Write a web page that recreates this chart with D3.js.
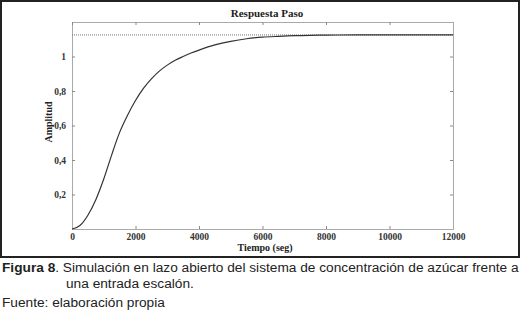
<!DOCTYPE html>
<html>
<head>
<meta charset="utf-8">
<script src="https://cdn.jsdelivr.net/npm/d3@7"></script>
<style>
  body { margin: 0; background: #fff; }
  svg { display: block; }
</style>
</head>
<body>
<script>
// Constantes de la visualización
const WIDTH = 521;
const HEIGHT = 318;
const MARGIN = { top: 22, left: 72, right: 68, bottom: 89 };
const WIDTHVIS = WIDTH - MARGIN.left - MARGIN.right;
const HEIGHTVIS = HEIGHT - MARGIN.top - MARGIN.bottom;

// Datos: tiempo (seg) y amplitud
const tiempos = [0, 250, 500, 750, 1000, 1250, 1500, 1750, 2000, 2250, 2500, 2750,
  3000, 3250, 3500, 3750, 4000, 4500, 5000, 5500, 6000, 6500, 7000, 7500, 8000,
  9000, 10000, 11000, 12000];
const amplitudes = [0, 0.02, 0.08, 0.17, 0.29, 0.43, 0.56, 0.66, 0.745, 0.815, 0.87, 0.915,
  0.95, 0.978, 1.0, 1.02, 1.037, 1.067, 1.088, 1.103, 1.112, 1.117, 1.121, 1.123, 1.124,
  1.125, 1.125, 1.125, 1.125];
const valorFinal = 1.125;
const ticksX = [0, 2000, 4000, 6000, 8000, 10000, 12000];
const ticksY = [0.2, 0.4, 0.6, 0.8, 1];

const datos = tiempos.map((t, i) => ({ t: t, a: amplitudes[i] }));

const svg = d3.select("body")
  .append("svg")
  .attr("width", WIDTH)
  .attr("height", HEIGHT);

// Marco exterior de la figura
svg.append("rect")
  .attr("x", 1)
  .attr("y", 1)
  .attr("width", 518)
  .attr("height", 256)
  .attr("fill", "#fff")
  .attr("stroke", "#222")
  .attr("stroke-width", 2);

const escalaX = d3.scaleLinear().domain([0, 12000]).range([0, WIDTHVIS]);
const escalaY = d3.scaleLinear().domain([0, 1.2]).range([HEIGHTVIS, 0]);

const contenedor = svg.append("g")
  .attr("transform", `translate(${MARGIN.left}, ${MARGIN.top})`);

const fuenteSerif = "'Liberation Serif', 'Times New Roman', serif";

// Ejes con ticks hacia adentro (estilo matlab)
const ejeX = d3.axisBottom(escalaX).tickValues(ticksX).tickSize(-3).tickPadding(4)
  .tickFormat(d3.format("d"));
const ejeY = d3.axisLeft(escalaY).tickValues(ticksY).tickSize(-3).tickPadding(6)
  .tickFormat(d => String(d).replace(".", ","));

const gX = contenedor.append("g")
  .attr("transform", `translate(0, ${HEIGHTVIS})`)
  .call(ejeX);
const gY = contenedor.append("g").call(ejeY);

// Espejo arriba y a la derecha
const gXTop = contenedor.append("g")
  .call(d3.axisTop(escalaX).tickValues(ticksX).tickSize(-3).tickFormat(""));
const gYRight = contenedor.append("g")
  .attr("transform", `translate(${WIDTHVIS}, 0)`)
  .call(d3.axisRight(escalaY).tickValues(ticksY).tickSize(-3).tickFormat(""));

[gX, gY, gXTop, gYRight].forEach(g => {
  g.select(".domain").attr("stroke", "#aaa");
  g.selectAll(".tick line").attr("stroke", "#888");
  g.selectAll("text")
    .attr("font-family", fuenteSerif)
    .attr("font-weight", "bold")
    .attr("font-size", 9.5)
    .attr("fill", "#333");
});

// Línea punteada del valor final
contenedor.append("line")
  .attr("x1", 0)
  .attr("x2", WIDTHVIS)
  .attr("y1", escalaY(valorFinal))
  .attr("y2", escalaY(valorFinal))
  .attr("stroke", "#777")
  .attr("stroke-width", 1)
  .attr("stroke-dasharray", "1,1");

// Curva de respuesta
const linea = d3.line()
  .x(d => escalaX(d.t))
  .y(d => escalaY(d.a))
  .curve(d3.curveMonotoneX);

contenedor.append("path")
  .datum(datos)
  .attr("fill", "none")
  .attr("stroke", "#333")
  .attr("stroke-width", 1.2)
  .attr("d", linea);

// Títulos
svg.append("text")
  .attr("x", 267)
  .attr("y", 17)
  .attr("text-anchor", "middle")
  .attr("font-family", fuenteSerif)
  .attr("font-weight", "bold")
  .attr("font-size", 11)
  .attr("fill", "#222")
  .text("Respuesta Paso");

svg.append("text")
  .attr("x", 265)
  .attr("y", 251)
  .attr("text-anchor", "middle")
  .attr("font-family", fuenteSerif)
  .attr("font-weight", "bold")
  .attr("font-size", 10)
  .attr("fill", "#222")
  .text("Tiempo (seg)");

svg.append("text")
  .attr("transform", "translate(52, 122) rotate(-90)")
  .attr("text-anchor", "middle")
  .attr("font-family", fuenteSerif)
  .attr("font-weight", "bold")
  .attr("font-size", 10)
  .attr("fill", "#222")
  .text("Amplitud");

// Pie de figura
const fuenteSans = "'Liberation Sans', Arial, sans-serif";
const pie = svg.append("g")
  .attr("font-family", fuenteSans)
  .attr("font-size", 13.7)
  .attr("fill", "#222");

const linea1 = pie.append("text").attr("x", 2).attr("y", 272);
linea1.append("tspan").attr("font-weight", "bold").text("Figura 8");
linea1.append("tspan").text(". Simulación en lazo abierto del sistema de concentración de azúcar frente a");

pie.append("text").attr("x", 66).attr("y", 288).text("una entrada escalón.");
pie.append("text").attr("x", 2).attr("y", 307).text("Fuente: elaboración propia");
</script>
</body>
</html>
